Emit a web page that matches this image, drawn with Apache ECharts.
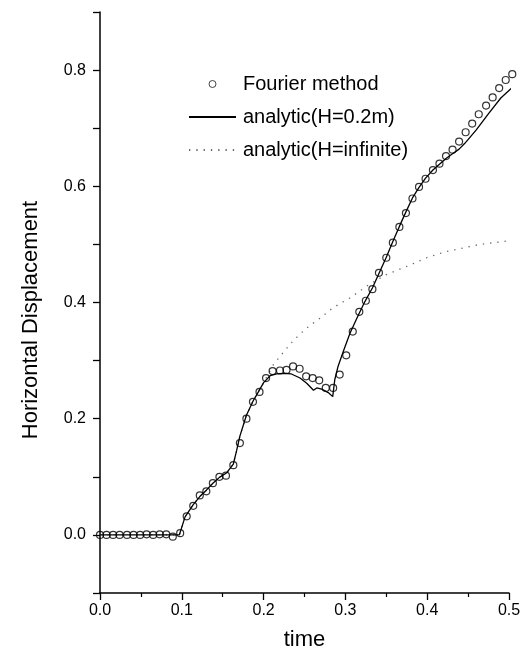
<!DOCTYPE html>
<html>
<head>
<meta charset="utf-8">
<script src="https://cdn.jsdelivr.net/npm/echarts@6/dist/echarts.min.js"></script>
<style>
html,body{margin:0;padding:0;background:#fff;}
#chart{width:529px;height:661px;}
</style>
</head>
<body>
<div id="chart"></div>
<script>
// Fourier method (circles)
const fourierT = [0,0.008,0.016,0.024,0.033,0.041,0.049,0.057,0.065,0.073,0.081,0.089,0.098,
  0.106,0.114,0.122,0.130,0.138,0.146,0.154,0.163,0.171,0.179,0.187,0.195,0.203,0.211,0.220,
  0.228,0.236,0.244,0.252,0.260,0.268,0.276,0.285,0.293,0.301,0.309,0.317,0.325,0.333,0.341,
  0.350,0.358,0.366,0.374,0.382,0.390,0.398,0.407,0.415,0.423,0.431,0.439,0.447,0.455,0.463,
  0.472,0.480,0.488,0.496,0.504];
const fourierV = [0,0,0,0,0,0,0,0.001,0,0.001,0.001,-0.003,0.003,
  0.032,0.050,0.068,0.075,0.089,0.100,0.102,0.120,0.158,0.200,0.229,0.246,0.270,0.282,0.283,
  0.284,0.290,0.286,0.273,0.270,0.266,0.253,0.253,0.276,0.309,0.350,0.384,0.403,0.423,0.451,
  0.477,0.503,0.530,0.554,0.579,0.599,0.613,0.628,0.639,0.652,0.663,0.677,0.693,0.708,0.724,
  0.739,0.753,0.769,0.783,0.793];

// analytic (H=0.2m) solid line
const finiteT = [0,0.097,0.098,0.104,0.114,0.122,0.130,0.138,0.146,0.155,0.163,0.167,0.171,
  0.179,0.187,0.1915,0.200,0.208,0.216,0.224,0.234,0.2445,0.2527,0.261,0.265,0.271,0.279,
  0.2845,0.287,0.291,0.2975,0.3056,0.316,0.324,0.333,0.341,0.350,0.358,0.366,0.374,0.382,
  0.390,0.398,0.407,0.415,0.423,0.431,0.439,0.446,0.460,0.475,0.490,0.504];
const finiteV = [0,0,0.001,0.031,0.052,0.066,0.077,0.089,0.099,0.107,0.122,0.145,0.170,
  0.206,0.230,0.241,0.262,0.274,0.277,0.278,0.277,0.270,0.261,0.249,0.253,0.251,0.245,
  0.238,0.267,0.290,0.316,0.347,0.379,0.402,0.425,0.450,0.478,0.505,0.531,0.556,0.580,
  0.598,0.614,0.628,0.638,0.648,0.656,0.664,0.674,0.697,0.725,0.752,0.770];

// analytic (H=infinite) dotted line
const infiniteT = [0,0.097,0.098,0.104,0.114,0.122,0.130,0.138,0.146,0.155,0.163,0.167,0.171,
  0.179,0.187,0.1915,0.200,0.206,0.212,0.224,0.236,0.2445,0.2527,0.269,0.283,0.291,0.3056,
  0.330,0.350,0.375,0.399,0.424,0.4625,0.504];
const infiniteV = [0,0,0.001,0.031,0.052,0.066,0.077,0.089,0.099,0.107,0.122,0.145,0.170,
  0.206,0.230,0.241,0.262,0.278,0.293,0.314,0.334,0.3455,0.356,0.373,0.389,0.396,0.408,
  0.432,0.448,0.462,0.477,0.488,0.4995,0.507];

const seriesNames = ['Fourier method','analytic(H=0.2m)','analytic(H=infinite)'];
const xTicks = [0,0.1,0.2,0.3,0.4,0.5];
const yTickLabels = ['0.0','0.2','0.4','0.6','0.8'];

const zip = (a,b) => a.map((v,i)=>[v,b[i]]);
const FONT = '"Liberation Sans", Arial, Helvetica, sans-serif';

const chart = echarts.init(document.getElementById('chart'), null, {renderer:'canvas'});
chart.setOption({
  animation:false,
  backgroundColor:'#fff',
  grid:{left:100, right:20, top:12, bottom:68, containLabel:false},
  legend:{
    orient:'vertical', left:183, top:69, itemWidth:47, itemHeight:7, itemGap:13,
    data:[
      {name:seriesNames[0], itemStyle:{borderWidth:0.9}},
      {name:seriesNames[1], itemStyle:{opacity:0}},
      {name:seriesNames[2], itemStyle:{opacity:0}}
    ],
    textStyle:{color:'#000', fontSize:20, fontFamily:FONT, padding:[0,0,0,2]}
  },
  xAxis:{
    type:'value', min:xTicks[0], max:xTicks[xTicks.length-1], interval:0.1,
    name:'time', nameLocation:'middle', nameGap:36,
    nameTextStyle:{color:'#000', fontSize:22, fontFamily:FONT},
    axisLine:{show:true, onZero:false, lineStyle:{color:'#000', width:1.5}},
    axisTick:{show:true, inside:false, length:7, lineStyle:{color:'#000', width:1.3}},
    minorTick:{show:true, splitNumber:2, length:4, lineStyle:{color:'#000', width:1.2}},
    splitLine:{show:false},
    axisLabel:{color:'#000', fontSize:16, fontFamily:FONT, margin:10,
      formatter:v=>v.toFixed(1)}
  },
  yAxis:{
    type:'value', min:-0.1, max:0.9, interval:0.1,
    axisLine:{show:true, onZero:false, lineStyle:{color:'#000', width:1.5}},
    axisTick:{show:true, inside:false, length:7, lineStyle:{color:'#000', width:1.3}},
    splitLine:{show:false},
    axisLabel:{color:'#000', fontSize:16, fontFamily:FONT, margin:14,
      formatter:v=>{
        const k = Math.round(v*10);
        if (k>=0 && k<=8 && k%2===0) return yTickLabels[k/2];
        return '';
      }}
  },
  graphic:[{
    type:'text', x:31, y:320, rotation:Math.PI/2,
    style:{text:'Horizontal Displacement', fill:'#000', font:'22px '+FONT,
      textAlign:'center', textVerticalAlign:'middle'}
  }],
  series:[
    {
      name:seriesNames[0], type:'scatter', data:zip(fourierT,fourierV),
      symbol:'circle', symbolSize:7, clip:false, z:3,
      itemStyle:{color:'rgba(255,255,255,0)', borderColor:'#000', borderWidth:1.2}
    },
    {
      name:seriesNames[1], type:'line', data:zip(finiteT,finiteV),
      symbol:'none', clip:false, z:2,
      itemStyle:{color:'#000'},
      lineStyle:{color:'#000', width:1.3}
    },
    {
      name:seriesNames[2], type:'line', data:zip(infiniteT,infiniteV),
      symbol:'none', clip:false, z:1,
      itemStyle:{color:'#666'},
      lineStyle:{color:'#666', width:1.3, type:[1.3,6]}
    }
  ]
});
</script>
</body>
</html>
